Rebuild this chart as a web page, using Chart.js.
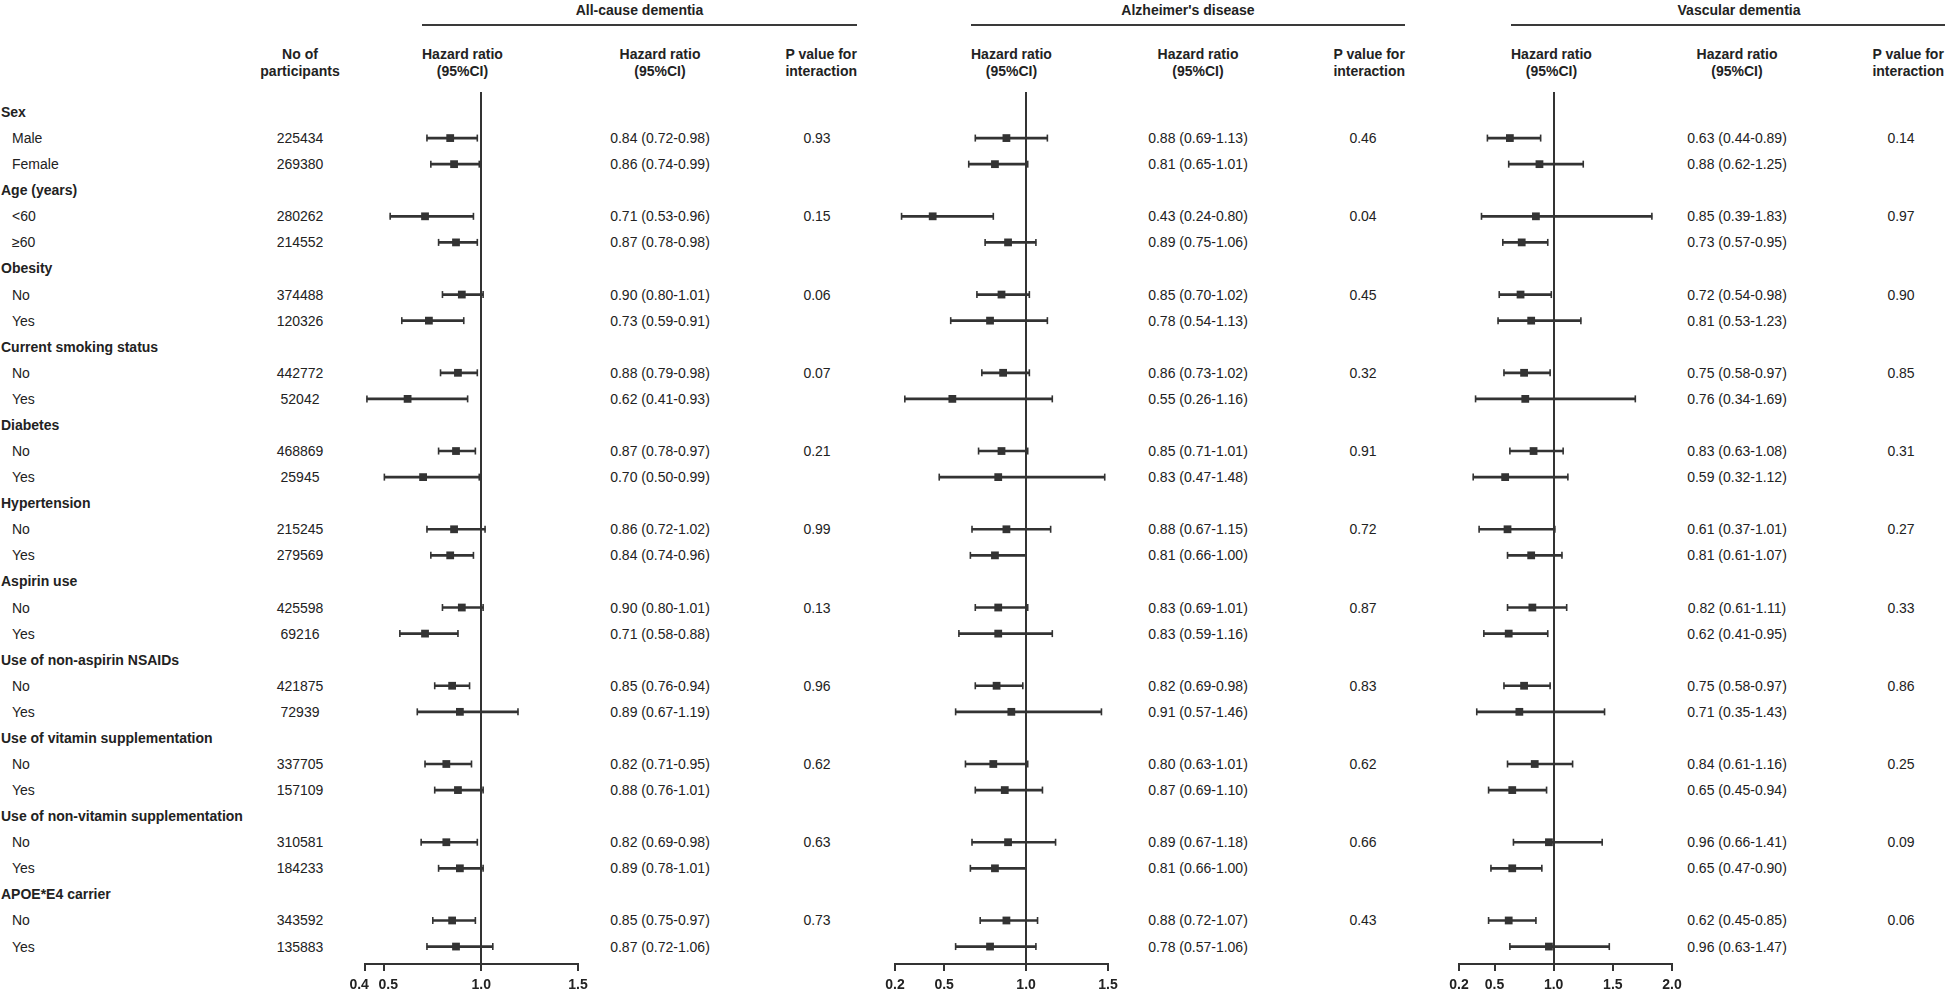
<!DOCTYPE html>
<html>
<head>
<meta charset="utf-8">
<script src="https://cdn.jsdelivr.net/npm/chart.js@4.4.1/dist/chart.umd.min.js"></script>
<style>
  body { margin: 0; background: #fff; width: 1945px; height: 994px; overflow: hidden; position: relative;
         font-family: "Liberation Sans", Arial, sans-serif; color: #222; }
  .t { position: absolute; font-size: 14px; line-height: 18px; white-space: nowrap; }
  .h { position: absolute; font-size: 14px; line-height: 17px; white-space: nowrap; font-weight: bold; text-align: center; }
  .b { font-weight: bold; }
  .c { transform: translateX(-50%); text-align: center; }
  .rule { position: absolute; height: 2px; background: #3a3a3a; }
  .panel { position: absolute; }
  .panel canvas { display: block; }
</style>
</head>
<body>
<script>
// rows of the table (group rows have no participants / estimates)
const rowLabels = ['Sex', 'Male', 'Female', 'Age (years)', '<60', '≥60', 'Obesity', 'No', 'Yes',
  'Current smoking status', 'No', 'Yes', 'Diabetes', 'No', 'Yes', 'Hypertension', 'No', 'Yes',
  'Aspirin use', 'No', 'Yes', 'Use of non-aspirin NSAIDs', 'No', 'Yes',
  'Use of vitamin supplementation', 'No', 'Yes', 'Use of non-vitamin supplementation', 'No', 'Yes',
  'APOE*E4 carrier', 'No', 'Yes'];
const participants = [null, '225434', '269380', null, '280262', '214552', null, '374488', '120326',
  null, '442772', '52042', null, '468869', '25945', null, '215245', '279569', null, '425598', '69216',
  null, '421875', '72939', null, '337705', '157109', null, '310581', '184233', null, '343592', '135883'];

// All-cause dementia
const allHR   = [null, 0.84, 0.86, null, 0.71, 0.87, null, 0.90, 0.73, null, 0.88, 0.62, null, 0.87, 0.70, null, 0.86, 0.84, null, 0.90, 0.71, null, 0.85, 0.89, null, 0.82, 0.88, null, 0.82, 0.89, null, 0.85, 0.87];
const allLow  = [null, 0.72, 0.74, null, 0.53, 0.78, null, 0.80, 0.59, null, 0.79, 0.41, null, 0.78, 0.50, null, 0.72, 0.74, null, 0.80, 0.58, null, 0.76, 0.67, null, 0.71, 0.76, null, 0.69, 0.78, null, 0.75, 0.72];
const allHigh = [null, 0.98, 0.99, null, 0.96, 0.98, null, 1.01, 0.91, null, 0.98, 0.93, null, 0.97, 0.99, null, 1.02, 0.96, null, 1.01, 0.88, null, 0.94, 1.19, null, 0.95, 1.01, null, 0.98, 1.01, null, 0.97, 1.06];
const allP    = [null, '0.93', null, null, '0.15', null, null, '0.06', null, null, '0.07', null, null, '0.21', null, null, '0.99', null, null, '0.13', null, null, '0.96', null, null, '0.62', null, null, '0.63', null, null, '0.73', null];

// Alzheimer's disease
const adHR   = [null, 0.88, 0.81, null, 0.43, 0.89, null, 0.85, 0.78, null, 0.86, 0.55, null, 0.85, 0.83, null, 0.88, 0.81, null, 0.83, 0.83, null, 0.82, 0.91, null, 0.80, 0.87, null, 0.89, 0.81, null, 0.88, 0.78];
const adLow  = [null, 0.69, 0.65, null, 0.24, 0.75, null, 0.70, 0.54, null, 0.73, 0.26, null, 0.71, 0.47, null, 0.67, 0.66, null, 0.69, 0.59, null, 0.69, 0.57, null, 0.63, 0.69, null, 0.67, 0.66, null, 0.72, 0.57];
const adHigh = [null, 1.13, 1.01, null, 0.80, 1.06, null, 1.02, 1.13, null, 1.02, 1.16, null, 1.01, 1.48, null, 1.15, 1.00, null, 1.01, 1.16, null, 0.98, 1.46, null, 1.01, 1.10, null, 1.18, 1.00, null, 1.07, 1.06];
const adP    = [null, '0.46', null, null, '0.04', null, null, '0.45', null, null, '0.32', null, null, '0.91', null, null, '0.72', null, null, '0.87', null, null, '0.83', null, null, '0.62', null, null, '0.66', null, null, '0.43', null];

// Vascular dementia
const vdHR   = [null, 0.63, 0.88, null, 0.85, 0.73, null, 0.72, 0.81, null, 0.75, 0.76, null, 0.83, 0.59, null, 0.61, 0.81, null, 0.82, 0.62, null, 0.75, 0.71, null, 0.84, 0.65, null, 0.96, 0.65, null, 0.62, 0.96];
const vdLow  = [null, 0.44, 0.62, null, 0.39, 0.57, null, 0.54, 0.53, null, 0.58, 0.34, null, 0.63, 0.32, null, 0.37, 0.61, null, 0.61, 0.41, null, 0.58, 0.35, null, 0.61, 0.45, null, 0.66, 0.47, null, 0.45, 0.63];
const vdHigh = [null, 0.89, 1.25, null, 1.83, 0.95, null, 0.98, 1.23, null, 0.97, 1.69, null, 1.08, 1.12, null, 1.01, 1.07, null, 1.11, 0.95, null, 0.97, 1.43, null, 1.16, 0.94, null, 1.41, 0.90, null, 0.85, 1.47];
const vdP    = [null, '0.14', null, null, '0.97', null, null, '0.90', null, null, '0.85', null, null, '0.31', null, null, '0.27', null, null, '0.33', null, null, '0.86', null, null, '0.25', null, null, '0.09', null, null, '0.06', null];

// axis ticks
const allTicks = [0.4, 0.5, 1.0, 1.5];
const adTicks  = [0.2, 0.5, 1.0, 1.5];
const vdTicks  = [0.2, 0.5, 1.0, 1.5, 2.0];

const panelTitles = ['All-cause dementia', "Alzheimer's disease", 'Vascular dementia'];

// ---------------- layout ----------------
const INK = '#333';
const ROW0 = 112, ROWH = 26.08;      // y of first row, row pitch
const PLOT_TOP = 92, PLOT_BOTTOM = 964;
const rowY = i => ROW0 + ROWH * i;

function addText(txt, x, y, cls) {
  const d = document.createElement('div');
  d.className = 't ' + (cls || '');
  d.textContent = txt;
  d.style.left = x + 'px';
  d.style.top = (y - 9) + 'px';
  document.body.appendChild(d);
  return d;
}
function addHeader(html, css) {
  const d = document.createElement('div');
  d.className = 'h';
  d.innerHTML = html;
  Object.assign(d.style, css);
  document.body.appendChild(d);
}

// left columns
rowLabels.forEach((lab, i) => {
  const group = participants[i] === null;
  addText(lab, group ? 1 : 12, rowY(i), group ? 'b' : '');
  if (!group) addText(participants[i], 300, rowY(i), 'c');
});
addHeader('No of<br>participants', { left: '300px', top: '46px', transform: 'translateX(-50%)' });

const panels = [
  { title: panelTitles[0], hr: allHR, lo: allLow, hi: allHigh, p: allP, ticks: allTicks, min: 0.4, max: 1.5,
    axisL: 365, axisR: 578, ruleL: 422, ruleR: 857, hrX: 660, pX: 817 },
  { title: panelTitles[1], hr: adHR, lo: adLow, hi: adHigh, p: adP, ticks: adTicks, min: 0.2, max: 1.5,
    axisL: 895, axisR: 1108, ruleL: 971, ruleR: 1405, hrX: 1198, pX: 1363 },
  { title: panelTitles[2], hr: vdHR, lo: vdLow, hi: vdHigh, p: vdP, ticks: vdTicks, min: 0.2, max: 2.0,
    axisL: 1459, axisR: 1672, ruleL: 1511, ruleR: 1990, hrX: 1737, pX: 1901 }
];

const fmt = v => v.toFixed(2);

panels.forEach((pn, k) => {
  // headings
  const rule = document.createElement('div');
  rule.className = 'rule';
  rule.style.left = pn.ruleL + 'px';
  rule.style.width = (Math.min(pn.ruleR, 1945) - pn.ruleL) + 'px';
  rule.style.top = '24px';
  document.body.appendChild(rule);
  const tc = k < 2 ? (pn.ruleL + pn.ruleR) / 2 : 1739;
  addHeader(pn.title, { left: tc + 'px', top: '2px', transform: 'translateX(-50%)' });
  addHeader('Hazard ratio<br>(95%CI)', { left: pn.ruleL + 'px', top: '46px' });
  addHeader('Hazard ratio<br>(95%CI)', { left: pn.hrX + 'px', top: '46px', transform: 'translateX(-50%)' });
  if (k < 2) addHeader('P value for<br>interaction', { right: (1945 - pn.ruleR) + 'px', top: '46px' });
  else addHeader('P value for<br>interaction', { right: '1px', top: '46px' });

  // text columns
  pn.hr.forEach((v, i) => {
    if (v === null) return;
    addText(fmt(v) + ' (' + fmt(pn.lo[i]) + '-' + fmt(pn.hi[i]) + ')', pn.hrX, rowY(i), 'c');
    if (pn.p[i]) addText(pn.p[i], pn.pX, rowY(i), 'c');
  });

  // chart
  const PAD = 25, SCALE_H = 34;
  const wrap = document.createElement('div');
  wrap.className = 'panel';
  wrap.style.left = (pn.axisL - PAD) + 'px';
  wrap.style.top = PLOT_TOP + 'px';
  const canvas = document.createElement('canvas');
  canvas.width = pn.axisR - pn.axisL + 2 * PAD;
  canvas.height = PLOT_BOTTOM - PLOT_TOP + SCALE_H;
  wrap.appendChild(canvas);
  document.body.appendChild(wrap);

  const ci = [], caps = [], pts = [];
  pn.hr.forEach((v, i) => {
    if (v === null) return;
    ci.push({ x: [pn.lo[i], pn.hi[i]], y: i });
    caps.push({ x: pn.lo[i], y: i }, { x: pn.hi[i], y: i });
    pts.push({ x: v, y: i });
  });

  new Chart(canvas, {
    type: 'scatter',
    data: {
      datasets: [
        { type: 'bar', indexAxis: 'y', data: ci, backgroundColor: INK, barThickness: 2, order: 3 },
        { data: caps, pointStyle: 'line', pointRotation: 90, pointRadius: 3.5,
          pointBorderColor: INK, pointBorderWidth: 1.6, order: 2 },
        { data: pts, pointStyle: 'rect', pointRadius: 5.5, pointBackgroundColor: INK,
          pointBorderWidth: 0, order: 1 }
      ]
    },
    options: {
      responsive: false,
      animation: false,
      events: [],
      layout: { autoPadding: false, padding: { left: PAD, right: PAD, top: 0, bottom: 0 } },
      plugins: { legend: { display: false }, tooltip: { enabled: false } },
      scales: {
        x: {
          type: 'linear', min: pn.min, max: pn.max, offset: false,
          afterBuildTicks: s => { s.ticks = pn.ticks.map(v => ({ value: v })); },
          afterFit: s => { s.height = SCALE_H; },
          border: { display: true, color: INK, width: 2 },
          grid: {
            color: c => (c.tick && c.tick.value === 1) ? INK : 'rgba(0,0,0,0)',
            lineWidth: 2, drawTicks: true, tickLength: 7, tickColor: INK, tickWidth: 2
          },
          ticks: {
            autoSkip: false, maxRotation: 0, padding: 6, color: '#222',
            font: { family: 'Liberation Sans', weight: 'bold', size: 14 },
            callback: v => {
              // push the crowded 0.4 / 0.5 labels apart a little
              if (k === 0 && v === 0.4) return '0.4   ';
              if (k === 0 && v === 0.5) return '  0.5';
              return v.toFixed(1);
            }
          }
        },
        y: { type: 'linear', display: false, reverse: true, offset: false,
             min: (PLOT_TOP - ROW0) / ROWH, max: (PLOT_BOTTOM - ROW0) / ROWH }
      }
    }
  });
});
</script>
</body>
</html>
